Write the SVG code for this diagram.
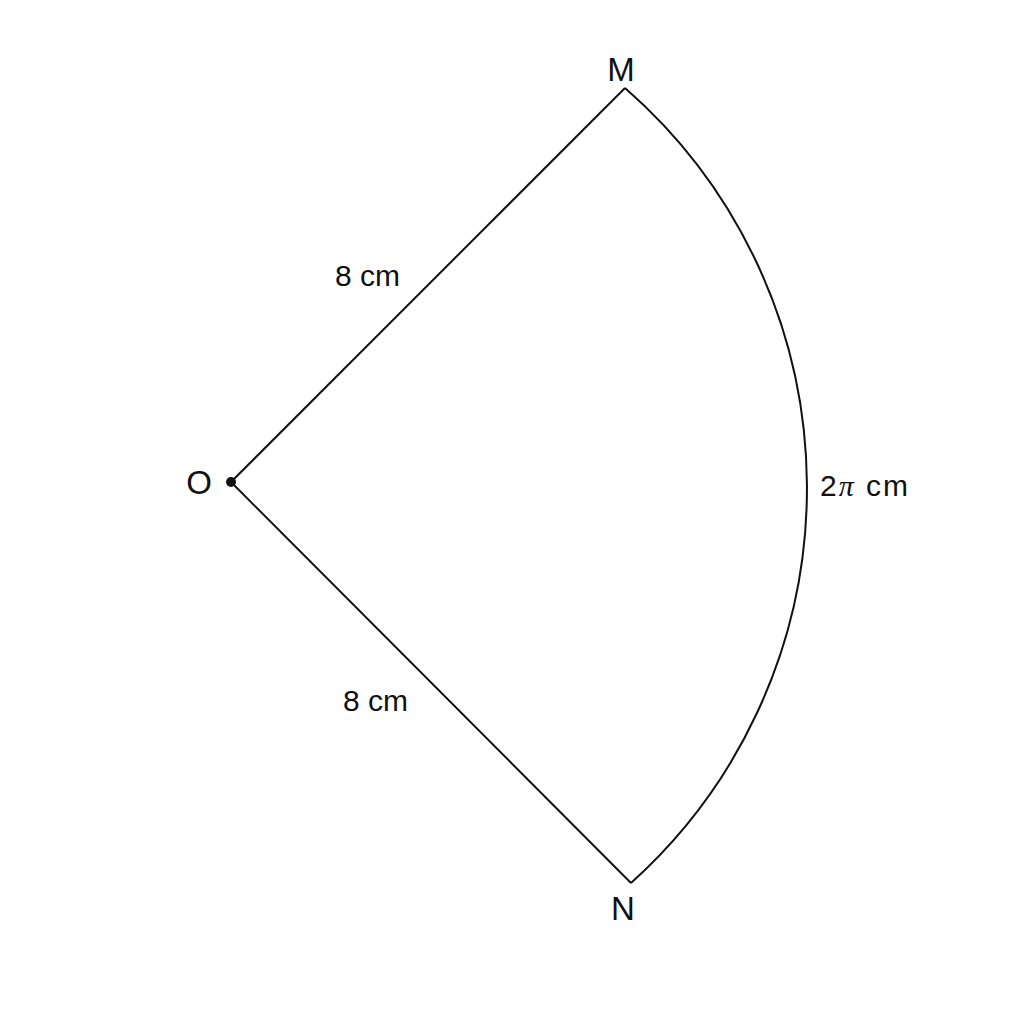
<svg xmlns="http://www.w3.org/2000/svg" width="1024" height="1024" viewBox="0 0 1024 1024">
<style>
.t{font-family:"Liberation Sans",Arial,sans-serif;font-size:33px;fill:#111}
.s{font-family:"Liberation Sans",Arial,sans-serif;font-size:30px;fill:#111}
.e{fill:none;stroke:#111;stroke-width:2}
</style>
<rect width="1024" height="1024" fill="#fff"/>
<g id="edges">
<line class="e" x1="231" y1="482" x2="625" y2="88"/>
<line class="e" x1="231" y1="482" x2="631" y2="883"/>
<path class="e" d="M625 88 A531 531 0 0 1 631 883"/>
</g>
<g id="O"><circle cx="231" cy="482" r="5" fill="#111"/><text class="t" x="199" y="494" text-anchor="middle">O</text></g>
<g id="M"><text class="t" x="621" y="81" text-anchor="middle">M</text></g>
<g id="N"><text class="t" x="623" y="920" text-anchor="middle">N</text></g>
<g id="labels">
<text class="s" x="335" y="286">8 cm</text>
<text class="s" x="343" y="711">8 cm</text>
<text class="s" x="820" y="496" textLength="88">2<tspan font-family="'Liberation Serif',serif" font-style="italic">π</tspan> cm</text>
</g>
</svg>
